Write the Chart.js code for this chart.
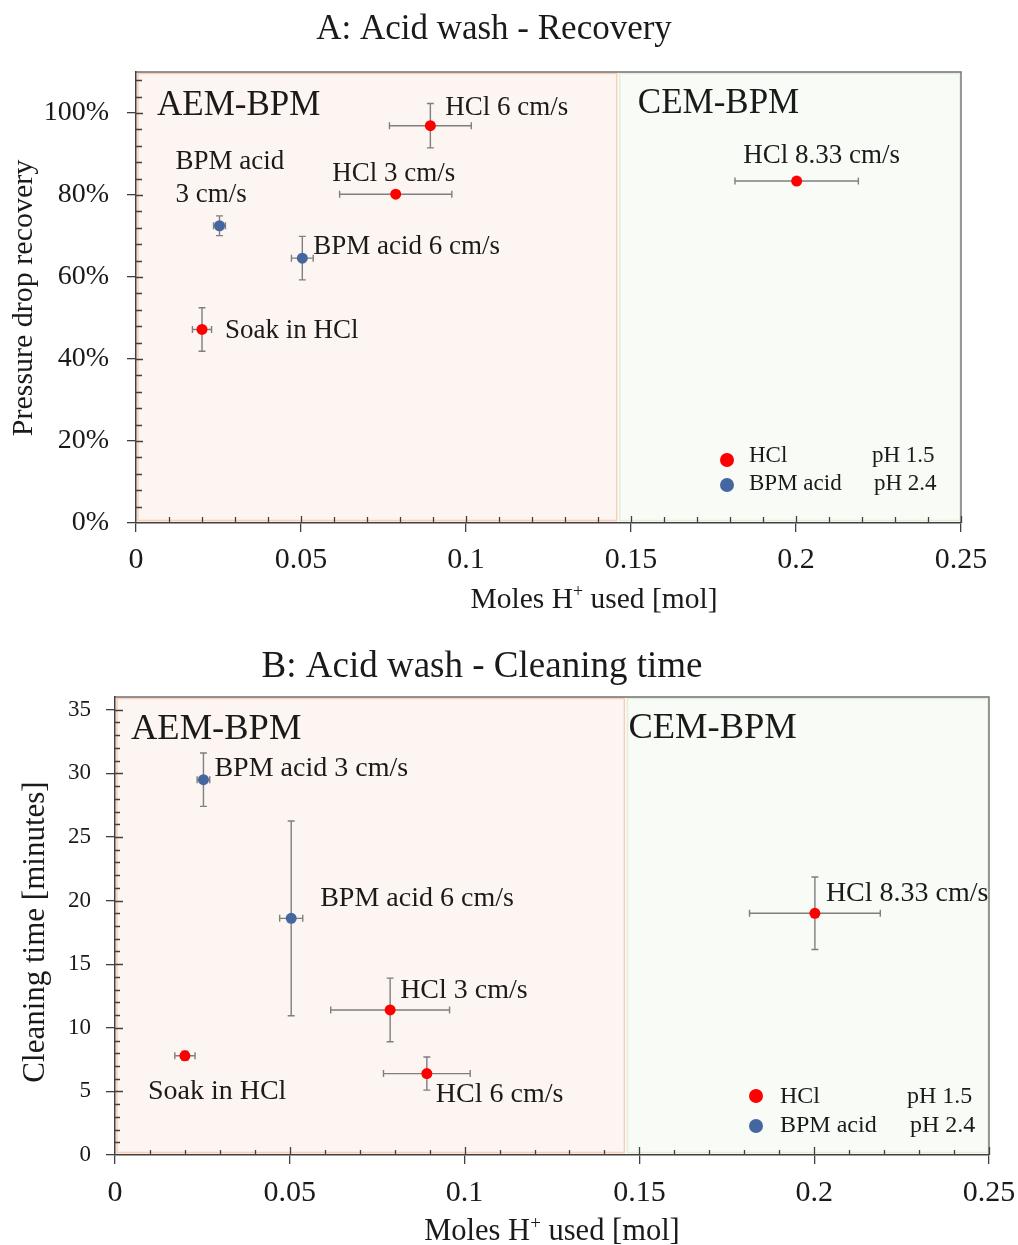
<!DOCTYPE html>
<html><head><meta charset="utf-8">
<script src="https://cdn.jsdelivr.net/npm/chart.js@4.4.1/dist/chart.umd.min.js"></script>
<style>
html,body{margin:0;padding:0;background:#fff;width:1018px;height:1245px;overflow:hidden}
.box{position:absolute;left:0;width:1018px;height:620px}
#boxA{top:0}
#boxB{top:625px}
canvas{display:block}
</style></head><body>
<div class="box" id="boxA"><canvas id="chartA" width="1018" height="620"></canvas></div>
<div class="box" id="boxB"><canvas id="chartB" width="1018" height="620"></canvas></div>
<script>
// ---------------- data ----------------
const titleA = 'A: Acid wash - Recovery';
const titleB = 'B: Acid wash - Cleaning time';
const yTitleA = 'Pressure drop recovery';
const yTitleB = 'Cleaning time [minutes]';
const xTitleParts = ['Moles H', '+', ' used [mol]'];

const xMoleTicks = [0, 0.05, 0.1, 0.15, 0.2, 0.25];
const recoveryTicks = [0, 20, 40, 60, 80, 100];
const timeTicks = [0, 5, 10, 15, 20, 25, 30, 35];

const seriesNames = ['HCl', 'BPM acid'];
const seriesPH = ['pH 1.5', 'pH 2.4'];

const regionNames = ['AEM-BPM', 'CEM-BPM'];
const regionBounds = [0, 0.146, 0.25];

const hclLabels = ['HCl 6 cm/s', 'HCl 3 cm/s', 'Soak in HCl', 'HCl 8.33 cm/s'];
const hclMoles = [0.0892, 0.0787, 0.0200, 0.2002];
const hclMolesErr = [0.0124, 0.0170, 0.0029, 0.0187];
const hclRecovery = [96.9, 80.2, 47.2, 83.4];
const hclRecoveryErr = [5.4, 0, 5.3, 0];
const hclTime = [6.4, 11.4, 7.8, 19.0];
const hclTimeErr = [1.3, 2.5, 0.35, 2.85];

const bpmLabels = ['BPM acid 3 cm/s', 'BPM acid 6 cm/s'];
const bpmMoles = [0.0253, 0.0504];
const bpmMolesErr = [0.0018, 0.0033];
const bpmRecovery = [72.5, 64.6];
const bpmRecoveryErr = [2.4, 5.3];
const bpmTime = [29.5, 18.6];
const bpmTimeErr = [2.1, 7.65];

// ---------------- helpers ----------------
const FONT = "'Liberation Serif','Times New Roman',Times,serif";
const RED = '#FF0000', BLUE = '#45679F';
const TEXT = '#1a1a1a';
const overlayCfg = {};

function pts(names, xs, xe, ys, ye) {
  return names.map((n, i) => ({x: xs[i], y: ys[i], xErr: xe[i], yErr: ye[i], name: n}));
}

const regionStyles = [
  {fill: '#FDF5F2', stroke: '#F7CFB4'},
  {fill: '#F9FBF7', stroke: '#E4EEDC'}
];

const overlay = {
  id: 'overlay',
  beforeDraw(chart) {
    const o = overlayCfg[chart.canvas.id];
    const {ctx, chartArea: a, scales: {x}} = chart;
    ctx.save();
    for (let i = 0; i < regionNames.length; i++) {
      const x0 = x.getPixelForValue(regionBounds[i]), x1 = x.getPixelForValue(regionBounds[i + 1]);
      const st = regionStyles[i];
      ctx.fillStyle = st.fill;
      ctx.fillRect(x0, a.top, x1 - x0, a.bottom - a.top);
      ctx.strokeStyle = st.stroke; ctx.lineWidth = 1.5;
      ctx.strokeRect(x0 + 2, a.top + 1.5, x1 - x0 - 3, a.bottom - a.top - 4);
    }
    ctx.strokeStyle = o.frameColor; ctx.lineWidth = 1.4;
    ctx.beginPath();
    ctx.moveTo(a.left, a.top); ctx.lineTo(a.right, a.top); ctx.lineTo(a.right, a.bottom);
    ctx.stroke();
    ctx.restore();
  },
  beforeDatasetsDraw(chart) {
    const {ctx, scales: {x, y}} = chart;
    ctx.save();
    ctx.strokeStyle = '#7F7F7F'; ctx.lineWidth = 1.4;
    const cap = 3.5;
    chart.data.datasets.forEach(ds => ds.data.forEach(p => {
      const px = x.getPixelForValue(p.x), py = y.getPixelForValue(p.y);
      ctx.beginPath();
      if (p.xErr > 0) {
        const l = x.getPixelForValue(p.x - p.xErr), r = x.getPixelForValue(p.x + p.xErr);
        ctx.moveTo(l, py); ctx.lineTo(r, py);
        ctx.moveTo(l, py - cap); ctx.lineTo(l, py + cap);
        ctx.moveTo(r, py - cap); ctx.lineTo(r, py + cap);
      }
      if (p.yErr > 0) {
        const t = y.getPixelForValue(p.y + p.yErr), b = y.getPixelForValue(p.y - p.yErr);
        ctx.moveTo(px, t); ctx.lineTo(px, b);
        ctx.moveTo(px - cap, t); ctx.lineTo(px + cap, t);
        ctx.moveTo(px - cap, b); ctx.lineTo(px + cap, b);
      }
      ctx.stroke();
    }));
    ctx.restore();
  },
  afterDraw(chart) {
    const o = overlayCfg[chart.canvas.id];
    const {ctx, chartArea: a, scales: {x, y}} = chart;
    ctx.save();
    ctx.strokeStyle = '#404040'; ctx.lineWidth = 1.3;
    ctx.beginPath();
    const nx = Math.round((x.max - x.min) / o.xMinor);
    for (let i = 1; i <= nx; i++) {
      const v = x.min + i * o.xMinor;
      const major = xMoleTicks.some(t => Math.abs(t - v) < 1e-9);
      const px = Math.round(x.getPixelForValue(v)) + 0.5;
      ctx.moveTo(px, a.bottom); ctx.lineTo(px, a.bottom - (major ? o.majorIn : o.minorIn));
    }
    const ny = Math.round((y.max - y.min) / o.yMinor);
    for (let i = 1; i <= ny; i++) {
      const v = y.min + i * o.yMinor;
      if (v >= y.max - 1e-9) continue;
      const major = o.yTicks.some(t => Math.abs(t - v) < 1e-9);
      const py = Math.round(y.getPixelForValue(v)) + 0.5;
      ctx.moveTo(a.left, py); ctx.lineTo(a.left + (major ? o.majorIn : o.minorIn), py);
    }
    ctx.stroke();

    ctx.fillStyle = TEXT;
    ctx.textBaseline = 'alphabetic';
    ctx.font = `${o.title.size}px ${FONT}`; ctx.textAlign = 'center';
    ctx.fillText(o.title.text, o.title.x, o.title.y);
    const xs = o.xTitle.size, ss = Math.round(xs * 0.62);
    ctx.font = `${xs}px ${FONT}`;
    const w0 = ctx.measureText(xTitleParts[0]).width;
    const w2 = ctx.measureText(xTitleParts[2]).width;
    ctx.font = `${ss}px ${FONT}`;
    const w1 = ctx.measureText(xTitleParts[1]).width;
    const sx = o.xTitle.x - (w0 + w1 + w2) / 2;
    ctx.textAlign = 'left';
    ctx.font = `${xs}px ${FONT}`;
    ctx.fillText(xTitleParts[0], sx, o.xTitle.y);
    ctx.font = `${ss}px ${FONT}`;
    ctx.fillText(xTitleParts[1], sx + w0, o.xTitle.y - xs * 0.36);
    ctx.font = `${xs}px ${FONT}`;
    ctx.fillText(xTitleParts[2], sx + w0 + w1, o.xTitle.y);
    ctx.save();
    ctx.translate(o.yTitle.x, o.yTitle.y);
    ctx.rotate(-Math.PI / 2);
    ctx.textAlign = 'center'; ctx.textBaseline = 'middle';
    ctx.font = `${o.yTitle.size}px ${FONT}`;
    ctx.fillText(o.yTitle.text, 0, 0);
    ctx.restore();
    ctx.textAlign = 'left'; ctx.textBaseline = 'alphabetic';
    ctx.font = `${o.region.size}px ${FONT}`;
    regionNames.forEach((n, i) => {
      const rx = x.getPixelForValue(regionBounds[i]) + o.region.dx[i];
      ctx.fillText(n, rx, a.top + o.region.dy[i]);
    });
    ctx.font = `${o.pointLabelSize}px ${FONT}`;
    chart.data.datasets.forEach(ds => ds.data.forEach(p => {
      const L = o.labelPos[p.name];
      if (!L) return;
      const px = x.getPixelForValue(p.x), py = y.getPixelForValue(p.y);
      ctx.textAlign = L.align || 'left';
      if (L.wrapAt) {
        ctx.fillText(p.name.slice(0, L.wrapAt), px + L.dx, py + L.dy);
        ctx.fillText(p.name.slice(L.wrapAt + 1), px + L.dx, py + L.dy + L.lineGap);
      } else {
        ctx.fillText(p.name, px + L.dx, py + L.dy);
      }
    }));
    const lg = o.legend;
    ctx.font = `${lg.size}px ${FONT}`; ctx.textAlign = 'left';
    chart.data.datasets.forEach((ds, i) => {
      ctx.fillStyle = ds.backgroundColor;
      ctx.beginPath();
      ctx.arc(a.right + lg.dotDx, a.bottom + lg.dotDy[i], lg.dotR, 0, Math.PI * 2);
      ctx.fill();
      ctx.fillStyle = TEXT;
      ctx.fillText(seriesNames[i], a.right + lg.textDx, a.bottom + lg.baseDy[i]);
      ctx.fillText(seriesPH[i], a.right + lg.phDx[i], a.bottom + lg.baseDy[i]);
    });
    ctx.restore();
  }
};

function makeChart(id, cfg) {
  overlayCfg[id] = cfg.overlay;
  const tickFont = (s) => ({family: FONT, size: s});
  return new Chart(document.getElementById(id), {
    type: 'scatter',
    data: {
      datasets: [
        {label: seriesNames[0], data: cfg.hcl, backgroundColor: RED, pointRadius: 5.5, pointBorderWidth: 0, pointHoverRadius: 5.5},
        {label: seriesNames[1], data: cfg.bpm, backgroundColor: BLUE, pointRadius: 5.5, pointBorderWidth: 0, pointHoverRadius: 5.5}
      ]
    },
    options: {
      responsive: false,
      animation: false,
      devicePixelRatio: 1,
      events: [],
      layout: {padding: cfg.padding, autoPadding: false},
      scales: {
        x: {
          type: 'linear', min: 0, max: 0.25,
          afterBuildTicks: s => { s.ticks = xMoleTicks.map(v => ({value: v})); },
          afterFit: s => { s.height = 60; s.paddingLeft = 0; s.paddingRight = 0; },
          ticks: {callback: v => String(+Number(v).toFixed(2)), font: tickFont(cfg.xTickSize), color: TEXT, padding: cfg.xTickPad, maxRotation: 0, autoSkip: false},
          grid: {drawOnChartArea: false, drawTicks: true, tickLength: 9, color: '#404040', lineWidth: 1.3},
          border: {color: '#404040', width: 1.5}
        },
        y: {
          type: 'linear', min: 0, max: cfg.yMax,
          afterBuildTicks: s => { s.ticks = cfg.yTicks.map(v => ({value: v})); },
          afterFit: s => { s.width = cfg.yWidth; s.paddingTop = 0; s.paddingBottom = 0; },
          ticks: {callback: cfg.yFmt, font: tickFont(cfg.yTickSize), color: TEXT, padding: cfg.yTickPad, autoSkip: false},
          grid: {drawOnChartArea: false, drawTicks: true, tickLength: 9, color: '#404040', lineWidth: 1.3},
          border: {color: '#404040', width: 1.5}
        }
      },
      plugins: {
        legend: {display: false},
        tooltip: {enabled: false},
        title: {display: false}
      }
    },
    plugins: [overlay]
  });
}

makeChart('chartA', {
  hcl: pts(hclLabels, hclMoles, hclMolesErr, hclRecovery, hclRecoveryErr),
  bpm: pts(bpmLabels, bpmMoles, bpmMolesErr, bpmRecovery, bpmRecoveryErr),
  padding: {left: 0, top: 72, right: 57, bottom: 37},
  yMax: 110, yTicks: recoveryTicks, yWidth: 136,
  yFmt: v => v + '%',
  xTickSize: 30, yTickSize: 28, xTickPad: 10, yTickPad: 18,
  overlay: {
    frameColor: '#707070', majorIn: 7, minorIn: 6, xMinor: 0.01, yMinor: 4, yTicks: recoveryTicks,
    title: {text: titleA, size: 35, x: 494, y: 39},
    xTitle: {size: 29.5, x: 594, y: 608},
    yTitle: {text: yTitleA, size: 30, x: 24, y: 298},
    region: {size: 35, dx: [21, 20], dy: [43, 41]},
    pointLabelSize: 27,
    labelPos: {
      'HCl 6 cm/s': {dx: 15, dy: -11},
      'HCl 3 cm/s': {dx: -2, dy: -13, align: 'center'},
      'BPM acid 3 cm/s': {dx: -44, dy: -57, wrapAt: 8, lineGap: 33},
      'BPM acid 6 cm/s': {dx: 11, dy: -4},
      'Soak in HCl': {dx: 23, dy: 9},
      'HCl 8.33 cm/s': {dx: 25, dy: -18, align: 'center'}
    },
    legend: {size: 23, dotR: 7, dotDx: -234, dotDy: [-63, -38], textDx: -212, phDx: [-89, -87], baseDy: [-61, -33]}
  }
});

makeChart('chartB', {
  hcl: pts(hclLabels, hclMoles, hclMolesErr, hclTime, hclTimeErr),
  bpm: pts(bpmLabels, bpmMoles, bpmMolesErr, bpmTime, bpmTimeErr),
  padding: {left: 0, top: 72, right: 29, bottom: 30},
  yMax: 36, yTicks: timeTicks, yWidth: 115,
  yFmt: v => String(v),
  xTickSize: 30, yTickSize: 23, xTickPad: 11, yTickPad: 15,
  overlay: {
    frameColor: '#707070', majorIn: 8, minorIn: 5, xMinor: 0.01, yMinor: 1, yTicks: timeTicks,
    title: {text: titleB, size: 37, x: 482, y: 52},
    xTitle: {size: 30.5, x: 552, y: 615},
    yTitle: {text: yTitleB, size: 31, x: 36, y: 307},
    region: {size: 36.5, dx: [16, 3], dy: [42, 41]},
    pointLabelSize: 28,
    labelPos: {
      'BPM acid 3 cm/s': {dx: 11, dy: -4},
      'BPM acid 6 cm/s': {dx: 29, dy: -12},
      'HCl 3 cm/s': {dx: 10, dy: -12},
      'HCl 6 cm/s': {dx: 9, dy: 28},
      'Soak in HCl': {dx: -37, dy: 43},
      'HCl 8.33 cm/s': {dx: 11, dy: -12}
    },
    legend: {size: 24, dotR: 7, dotDx: -233, dotDy: [-59, -29], textDx: -209, phDx: [-82, -79], baseDy: [-52, -23]}
  }
});
</script>
</body></html>
